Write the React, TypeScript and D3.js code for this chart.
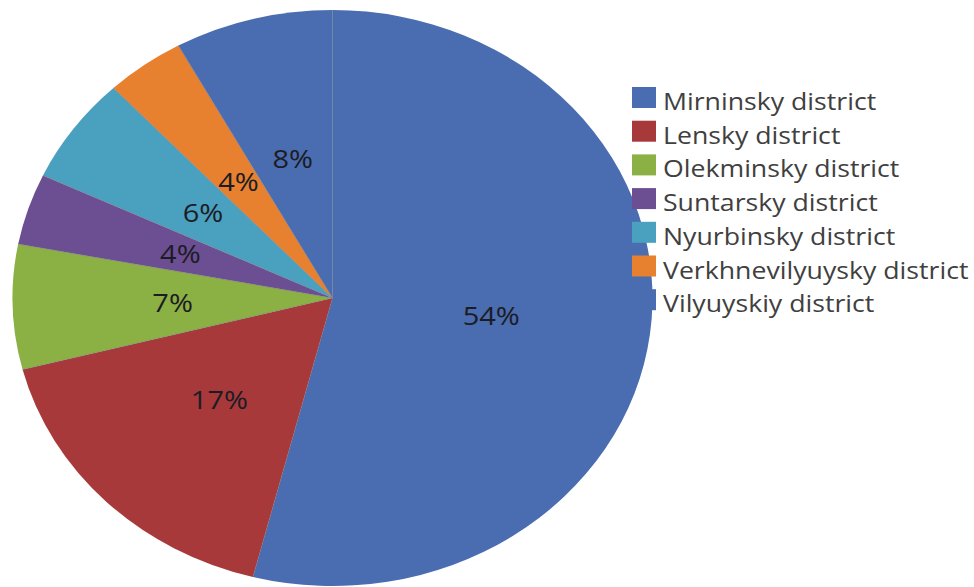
import React from "react";
import * as d3 from "d3";

const categories = [
  "Mirninsky district",
  "Lensky district",
  "Olekminsky district",
  "Suntarsky district",
  "Nyurbinsky district",
  "Verkhnevilyuysky district",
  "Vilyuyskiy district",
];
const values = [54, 17, 7, 4, 6, 4, 8];
const labels = ["54%", "17%", "7%", "4%", "6%", "4%", "8%"];
const colors = ["#4A6CB0", "#A8393B", "#8BB043", "#6C4E92", "#4AA0BF", "#E8812F", "#4A6CB0"];

const W = 974;
const H = 587;
const CX = 332.5;
const CY = 298;
const R = 320;
const SY = 0.9;

export default function App() {
  const pie = d3.pie<number>().sort(null).value((d) => d)(values);
  const arc = d3.arc<d3.PieArcDatum<number>>().innerRadius(0).outerRadius(R);

  return (
    <div style={{ position: "absolute", left: 0, top: 0 }}>
      <svg width={W} height={H} style={{ display: "block", background: "#fff" }}>
        <g transform={`translate(${CX},${CY}) scale(1,${SY})`}>
          {pie.map((p, i) => (
            <path key={i} d={arc(p) || ""} fill={colors[i]} />
          ))}
          {pie.map((p, i) => (
            <line
              key={"l" + i}
              x1={0}
              y1={0}
              x2={R * Math.sin(p.startAngle)}
              y2={-R * Math.cos(p.startAngle)}
              stroke="rgba(120,120,130,0.55)"
              strokeWidth={0.8}
              vectorEffect="non-scaling-stroke"
            />
          ))}
        </g>
        {pie.map((p, i) => {
          const c = arc.centroid(p);
          const x = CX + c[0];
          const y = CY + c[1] * SY;
          return (
            <text
              key={"t" + i}
              transform={`translate(${x},${y}) scale(1.16,1)`}
              textAnchor="middle"
              dy="0.36em"
              fontFamily="'Open Sans', sans-serif"
              fontSize={25}
              fill="#1c1c24"
            >
              {labels[i]}
            </text>
          );
        })}
        <g>
          {categories.map((name, i) => {
            const base = 110 + i * 33.7;
            return (
              <g key={"lg" + i}>
                <rect x={632} y={base - 23} width={24} height={21} fill={colors[i]} />
                <text
                  transform={`translate(663,${base}) scale(1.16,1)`}
                  fontFamily="'Open Sans', sans-serif"
                  fontSize={23}
                  fill="#404040"
                >
                  {name}
                </text>
              </g>
            );
          })}
        </g>
      </svg>
    </div>
  );
}
